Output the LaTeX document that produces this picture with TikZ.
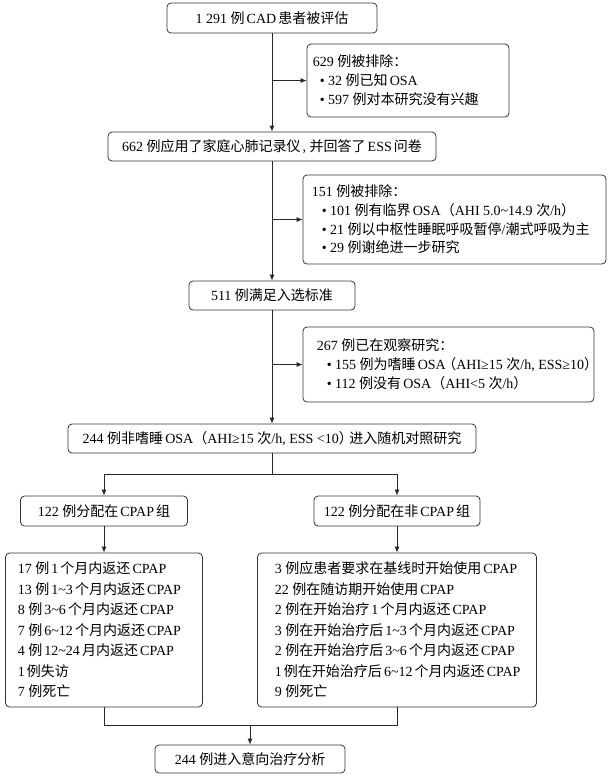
\documentclass[tikz,border=0pt]{standalone}
\usepackage{fontspec}
\setmainfont{Liberation Serif}
\newfontfamily\cjk{Noto Sans CJK SC}
\usetikzlibrary{arrows.meta}
\XeTeXinterchartokenstate=1
\newXeTeXintercharclass\CJKcls
\newXeTeXintercharclass\CJKPcls
\newXeTeXintercharclass\SLcls
\newXeTeXintercharclass\OPcls
\newXeTeXintercharclass\CPcls
\newcount\mycnt
\mycnt="4E00
\loop
  \XeTeXcharclass\mycnt=\CJKcls
  \ifnum\mycnt<"9FFF \advance\mycnt by 1
\repeat
\XeTeXcharclass"FF08=\OPcls
\XeTeXcharclass"FF09=\CPcls
\XeTeXcharclass"FF0C=\CJKPcls
\XeTeXcharclass"FF1A=\CJKPcls
\XeTeXcharclass`/=\SLcls
% ideographs
\XeTeXinterchartoks 0 \CJKcls = {\hskip0.15em\relax\cjk}
\XeTeXinterchartoks 4095 \CJKcls = {\cjk}
\XeTeXinterchartoks \SLcls \CJKcls = {\cjk}
\XeTeXinterchartoks \CJKcls 0 = {\rmfamily\hskip0.15em\relax}
\XeTeXinterchartoks \CJKcls 4095 = {\rmfamily}
\XeTeXinterchartoks \CJKcls \SLcls = {\rmfamily}
% other full-width punctuation
\XeTeXinterchartoks 0 \CJKPcls = {\cjk}
\XeTeXinterchartoks 4095 \CJKPcls = {\cjk}
\XeTeXinterchartoks \SLcls \CJKPcls = {\cjk}
\XeTeXinterchartoks \CJKPcls 0 = {\rmfamily}
\XeTeXinterchartoks \CJKPcls 4095 = {\rmfamily}
\XeTeXinterchartoks \CJKPcls \SLcls = {\rmfamily}
% opening parenthesis
\XeTeXinterchartoks 0 \OPcls = {\cjk\hskip-0.25em\relax}
\XeTeXinterchartoks 4095 \OPcls = {\cjk\hskip-0.25em\relax}
\XeTeXinterchartoks \SLcls \OPcls = {\cjk\hskip-0.25em\relax}
\XeTeXinterchartoks \CJKcls \OPcls = {\hskip-0.25em\relax}
\XeTeXinterchartoks \OPcls 0 = {\rmfamily}
\XeTeXinterchartoks \OPcls 4095 = {\rmfamily}
\XeTeXinterchartoks \OPcls \SLcls = {\rmfamily}
% closing parenthesis
\XeTeXinterchartoks 0 \CPcls = {\cjk}
\XeTeXinterchartoks 4095 \CPcls = {\cjk}
\XeTeXinterchartoks \SLcls \CPcls = {\cjk}
\XeTeXinterchartoks \CPcls 0 = {\hskip-0.25em\relax\rmfamily}
\XeTeXinterchartoks \CPcls 4095 = {\rmfamily}
\XeTeXinterchartoks \CPcls \SLcls = {\rmfamily}
\XeTeXinterchartoks \CPcls \CJKcls = {\hskip-0.25em\relax}
\newcommand{\tld}{\textasciitilde}
\tikzset{
  box/.style={draw=black!80, line width=0.8pt, rounded corners=4pt, inner sep=0pt, align=center},
  txt/.style={anchor=west, inner sep=0pt, align=left},
  arr/.style={draw=black!85, line width=0.8pt, -{Latex[length=6pt,width=5pt]}},
  ln/.style={draw=black!85, line width=0.8pt}
}
\begin{document}
\begin{tikzpicture}[x=1pt,y=-1pt, font=\fontsize{14}{19}\selectfont]
\useasboundingbox[fill=white] (0,0) rectangle (611,777);
% main column
\node[box, minimum width=210pt, minimum height=30pt] (b1) at (272,18) {1 291 例CAD患者被评估};
\node[box, minimum width=328pt, minimum height=29pt] (b3) at (272,146.5) {662 例应用了家庭心肺记录仪, 并回答了ESS问卷};
\node[box, minimum width=166pt, minimum height=29pt] (b5) at (272,295.5) {511 例满足入选标准};
\node[box, minimum width=408pt, minimum height=29pt] (b7) at (272,438.5) {244 例非嗜睡OSA （AHI≥15 次/h, ESS <10）进入随机对照研究};
% exclusion boxes
\node[box, minimum width=202pt, minimum height=73pt] (b2) at (408,80.5) {};
\node[txt] (t2) at ([xshift=6pt]b2.west) {629 例被排除：\\\hspace*{7pt}• 32 例已知OSA\\\hspace*{7pt}• 597 例对本研究没有兴趣};
\node[box, minimum width=303pt, minimum height=89pt] (b4) at (454.5,219.5) {};
\node[txt, font=\fontsize{14}{18.7}\selectfont] (t4) at ([xshift=9pt]b4.west) {151 例被排除：\\\hspace*{10pt}• 101 例有临界OSA （AHI 5.0\tld14.9 次/h）\\\hspace*{10pt}• 21 例以中枢性睡眠呼吸暂停/潮式呼吸为主\\\hspace*{10pt}• 29 例谢绝进一步研究};
\node[box, minimum width=291pt, minimum height=75pt] (b6) at (448.5,364.5) {};
\node[txt] (t6) at ([xshift=14pt]b6.west) {267 例已在观察研究：\\\hspace*{10pt}• 155 例为嗜睡OSA（AHI≥15 次/h, ESS≥10）\\\hspace*{10pt}• 112 例没有OSA （AHI<5 次/h）};
% groups
\node[box, minimum width=167pt, minimum height=30pt] (b8) at (104,511) {122 例分配在CPAP组};
\node[box, minimum width=166pt, minimum height=30pt] (b9) at (397,511) {122 例分配在非CPAP组};
\node[box, minimum width=197pt, minimum height=154pt] (b10) at (104,630) {};
\node[txt, font=\fontsize{14}{20.5}\selectfont] (t10) at ([xshift=12.5pt]b10.west) {17 例1个月内返还CPAP\\13 例1\tld3个月内返还CPAP\\8 例3\tld6个月内返还CPAP\\7 例6\tld12个月内返还CPAP\\4 例12\tld24月内返还CPAP\\1例失访\\7 例死亡};
\node[box, minimum width=279pt, minimum height=154pt] (b11) at (397,630) {};
\node[txt, font=\fontsize{14}{20.5}\selectfont] (t11) at ([xshift=17.5pt]b11.west) {3 例应患者要求在基线时开始使用CPAP\\22 例在随访期开始使用CPAP\\2 例在开始治疗1个月内返还CPAP\\3 例在开始治疗后1\tld3个月内返还CPAP\\2 例在开始治疗后3\tld6个月内返还CPAP\\1例在开始治疗后6\tld12个月内返还CPAP\\9 例死亡};
\node[box, minimum width=190pt, minimum height=28pt] (b12) at (250,759) {244 例进入意向治疗分析};
% connectors
\draw[arr] (b1.south) -- (b3.north);
\coordinate (j1) at (b1.south |- b2.west);
\draw[arr] (j1) -- (b2.west);
\draw[arr] (b3.south) -- (b5.north);
\coordinate (j2) at (b3.south |- b4.west);
\draw[arr] (j2) -- (b4.west);
\draw[arr] (b5.south) -- (b7.north);
\coordinate (j3) at (b5.south |- b6.west);
\draw[arr] (j3) -- (b6.west);
\coordinate (s) at (272,474);
\draw[ln] (b7.south) -- (s);
\draw[arr] (s) -| (b8.north);
\draw[arr] (s) -| (b9.north);
\draw[arr] (b8.south) -- (b10.north);
\draw[arr] (b9.south) -- (b11.north);
\coordinate (m) at (250,725);
\draw[ln] (b10.south) -- (b10.south |- m) -- (b11.south |- m) -- (b11.south);
\draw[arr] (m) -- (b12.north);
\end{tikzpicture}
\end{document}
